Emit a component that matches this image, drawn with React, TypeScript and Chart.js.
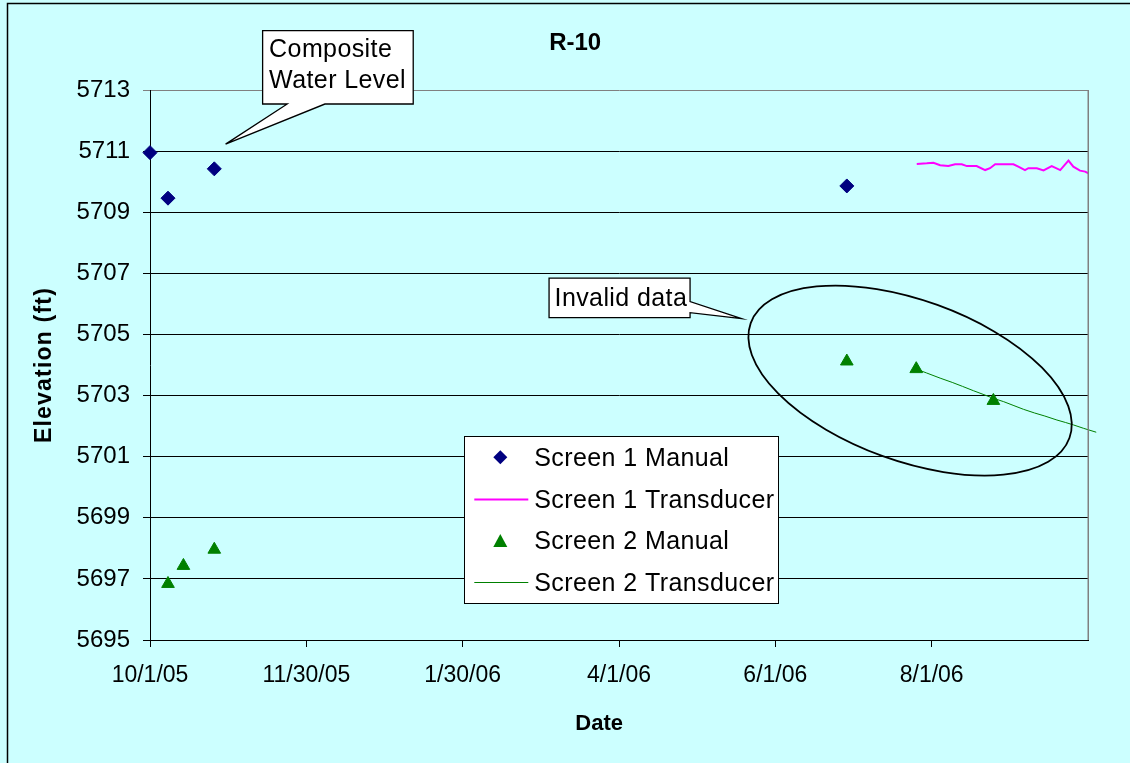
import React, { useEffect, useRef } from 'react';
import { Chart, registerables } from 'chart.js';

Chart.register(...registerables);

// All x values are days since 10/1/05 (start of the date axis)
const screen1ManualDays = [0, 7, 25, 271];
const screen1ManualElev = [5710.95, 5709.46, 5710.42, 5709.86];

const screen2ManualDays = [7, 13, 25, 271, 298, 328];
const screen2ManualElev = [5696.84, 5697.43, 5697.96, 5704.12, 5703.87, 5702.83];

const screen1TransDays = [298.2, 302.1, 304.7, 307.3, 310.5, 313.1, 315.7, 317.7, 321.5, 324.8, 326.7, 328.7, 335.8, 337.7, 340.3, 341.6, 344.9, 347.5, 350.7, 354.0, 357.2, 359.1, 361.7, 363.7, 365.0, 366.3, 368.0];
const screen1TransElev = [5710.58, 5710.60, 5710.62, 5710.54, 5710.51, 5710.57, 5710.57, 5710.51, 5710.51, 5710.38, 5710.44, 5710.57, 5710.57, 5710.49, 5710.38, 5710.44, 5710.44, 5710.37, 5710.51, 5710.38, 5710.69, 5710.49, 5710.36, 5710.33, 5710.27, 5710.33, 5710.27];

const screen2TransDays = [298.2, 302.0, 307.3, 312.0, 316.0, 320.2, 324.0, 328.0, 332.0, 336.0, 339.7, 344.0, 348.0, 352.7, 356.0, 359.1, 363.0, 368.0];
const screen2TransElev = [5703.86, 5703.74, 5703.57, 5703.43, 5703.30, 5703.16, 5703.04, 5702.91, 5702.80, 5702.67, 5702.55, 5702.43, 5702.33, 5702.20, 5702.12, 5702.04, 5701.93, 5701.80];

const xTickDays = [0, 60.8, 121.6, 182.4, 243.2, 304];
const xTickLabels = ['10/1/05', '11/30/05', '1/30/06', '4/1/06', '6/1/06', '8/1/06'];
const X_MIN = 0;
const X_MAX = 364.8;
const yTicks = [5695, 5697, 5699, 5701, 5703, 5705, 5707, 5709, 5711, 5713];

const seriesNames = ['Screen 1 Manual', 'Screen 1 Transducer', 'Screen 2 Manual', 'Screen 2 Transducer'];
const NAVY = '#000080';
const MAGENTA = '#FF00FF';
const GREEN = '#008000';
const BG = '#CCFFFF';
const FONT = '"Liberation Sans", Arial, sans-serif';

const toPoints = (xs: number[], ys: number[]) => xs.map((x, i) => ({ x, y: ys[i] }));

function setSpacing(ctx: any, px: number) {
  if ('letterSpacing' in ctx) ctx.letterSpacing = `${px}px`;
}

function drawDiamond(ctx: CanvasRenderingContext2D, x: number, y: number, r: number, color: string) {
  ctx.beginPath();
  ctx.moveTo(x - r, y);
  ctx.lineTo(x, y - r);
  ctx.lineTo(x + r, y);
  ctx.lineTo(x, y + r);
  ctx.closePath();
  ctx.fillStyle = color;
  ctx.fill();
}

function drawTriangle(ctx: CanvasRenderingContext2D, x: number, y: number, r: number, color: string) {
  ctx.beginPath();
  ctx.moveTo(x, y - r);
  ctx.lineTo(x + r, y + r * 0.85);
  ctx.lineTo(x - r, y + r * 0.85);
  ctx.closePath();
  ctx.fillStyle = color;
  ctx.fill();
}

const decorPlugin = {
  id: 'decor',
  beforeDraw(chart: any) {
    const ctx = chart.ctx as CanvasRenderingContext2D;
    ctx.save();
    ctx.fillStyle = BG;
    ctx.fillRect(0, 0, chart.width, chart.height);
    ctx.restore();
  },
  afterDraw(chart: any) {
    const ctx = chart.ctx as CanvasRenderingContext2D;
    const xs = chart.scales.x;
    const ys = chart.scales.y;
    const ca = chart.chartArea;
    ctx.save();

    // plot area right border (gray)
    ctx.strokeStyle = '#808080';
    ctx.lineWidth = 1.5;
    ctx.beginPath();
    ctx.moveTo(Math.round(ca.right) + 0.25, ca.top);
    ctx.lineTo(Math.round(ca.right) + 0.25, ca.bottom);
    ctx.stroke();

    // Ellipse around invalid data
    const ex = xs.getPixelForValue(295.6);
    const ey = ys.getPixelForValue(5703.49);
    ctx.strokeStyle = '#000';
    ctx.lineWidth = 1.8;
    ctx.beginPath();
    ctx.ellipse(ex, ey, 169.4, 80.4, 0.346, 0, Math.PI * 2);
    ctx.stroke();

    // Callout: Composite Water Level (pointer at bottom)
    {
      const bx = xs.getPixelForValue(43.8);
      const by = ys.getPixelForValue(5714.94);
      const w = 150.6, h = 73.3;
      const tx = xs.getPixelForValue(29.4);
      const ty = ys.getPixelForValue(5711.23);
      ctx.beginPath();
      ctx.moveTo(bx, by);
      ctx.lineTo(bx + w, by);
      ctx.lineTo(bx + w, by + h);
      ctx.lineTo(bx + 62.3, by + h);
      ctx.lineTo(tx, ty);
      ctx.lineTo(bx + 24.6, by + h);
      ctx.lineTo(bx, by + h);
      ctx.closePath();
      ctx.fillStyle = '#FFFFFF';
      ctx.fill();
      ctx.lineWidth = 1.3;
      ctx.strokeStyle = '#000';
      ctx.stroke();
      ctx.fillStyle = '#000';
      ctx.font = `25px ${FONT}`;
      setSpacing(ctx, 0.4);
      ctx.textAlign = 'left';
      ctx.textBaseline = 'alphabetic';
      ctx.fillText('Composite', bx + 6.5, by + 26.6);
      ctx.fillText('Water Level', bx + 6.5, by + 57.6);
      setSpacing(ctx, 0);
    }

    // Callout: Invalid data (pointer at right)
    {
      const bx = xs.getPixelForValue(155.2);
      const by = ys.getPixelForValue(5706.84);
      const w = 141, h = 39.4;
      const tx = xs.getPixelForValue(230.1);
      const ty = ys.getPixelForValue(5705.52);
      ctx.beginPath();
      ctx.moveTo(bx, by);
      ctx.lineTo(bx + w, by);
      ctx.lineTo(bx + w, by + 23.4);
      ctx.lineTo(tx, ty);
      ctx.lineTo(bx + w, by + 34.4);
      ctx.lineTo(bx + w, by + h);
      ctx.lineTo(bx, by + h);
      ctx.closePath();
      ctx.fillStyle = '#FFFFFF';
      ctx.fill();
      ctx.lineWidth = 1.3;
      ctx.strokeStyle = '#000';
      ctx.stroke();
      ctx.fillStyle = '#000';
      ctx.font = `25px ${FONT}`;
      setSpacing(ctx, 0.4);
      ctx.textAlign = 'left';
      ctx.textBaseline = 'alphabetic';
      ctx.fillText('Invalid data', bx + 5.5, by + 27.4);
      setSpacing(ctx, 0);
    }

    // Legend
    {
      const lx = ca.left + 314.3;
      const ly = ca.top + 346;
      const lw = 314, lh = 167;
      ctx.fillStyle = '#FFFFFF';
      ctx.fillRect(lx, ly, lw, lh);
      ctx.strokeStyle = '#000';
      ctx.lineWidth = 1;
      ctx.strokeRect(Math.round(lx) + 0.5, Math.round(ly) + 0.5, lw, lh);
      const rowsY = [21.3, 63, 104, 145.7];
      const symX = lx + 36;
      rowsY.forEach((ry, i) => {
        const cy = ly + ry;
        if (i === 0) drawDiamond(ctx, symX, cy, 7, NAVY);
        if (i === 2) drawTriangle(ctx, symX, cy + 1, 7, GREEN);
        if (i === 1 || i === 3) {
          ctx.strokeStyle = i === 1 ? MAGENTA : GREEN;
          ctx.lineWidth = i === 1 ? 2 : 1;
          ctx.beginPath();
          ctx.moveTo(lx + 10, Math.round(cy) + 0.5);
          ctx.lineTo(lx + 64, Math.round(cy) + 0.5);
          ctx.stroke();
        }
        ctx.fillStyle = '#000';
        ctx.font = `25px ${FONT}`;
        setSpacing(ctx, 0.4);
        ctx.textAlign = 'left';
        ctx.textBaseline = 'alphabetic';
        ctx.fillText(seriesNames[i], lx + 70, cy + 8.9);
        setSpacing(ctx, 0);
      });
    }

    // Title
    ctx.fillStyle = '#000';
    ctx.font = `bold 24px ${FONT}`;
    ctx.textAlign = 'center';
    ctx.textBaseline = 'alphabetic';
    ctx.fillText('R-10', ca.left + 425.2, ca.top - 40.2);

    // X axis title
    ctx.font = `bold 22px ${FONT}`;
    ctx.fillText('Date', ca.left + 449.2, ca.bottom + 89.9);

    // Y axis title
    ctx.save();
    ctx.translate(ca.left - 99.5, (ca.top + ca.bottom) / 2);
    ctx.rotate(-Math.PI / 2);
    ctx.font = `bold 23px ${FONT}`;
    setSpacing(ctx, 1.2);
    ctx.textAlign = 'center';
    ctx.fillText('Elevation (ft)', 0, 0);
    setSpacing(ctx, 0);
    ctx.restore();

    // outer chart border
    ctx.strokeStyle = '#000';
    ctx.lineWidth = 1.5;
    ctx.beginPath();
    ctx.moveTo(7.5, chart.height + 10);
    ctx.lineTo(7.5, 3.5);
    ctx.lineTo(chart.width + 10, 3.5);
    ctx.stroke();

    ctx.restore();
  },
};

export default function App() {
  const canvasRef = useRef<HTMLCanvasElement | null>(null);

  useEffect(() => {
    const canvas = canvasRef.current;
    if (!canvas) return;
    const chart = new Chart(canvas, {
      type: 'scatter',
      data: {
        datasets: [
          {
            label: seriesNames[0],
            data: toPoints(screen1ManualDays, screen1ManualElev),
            pointStyle: 'rectRot',
            pointRadius: 7,
            borderWidth: 1,
            backgroundColor: NAVY,
            borderColor: NAVY,
            showLine: false,
            clip: false,
          },
          {
            label: seriesNames[1],
            data: toPoints(screen1TransDays, screen1TransElev),
            showLine: true,
            pointRadius: 0,
            borderColor: MAGENTA,
            backgroundColor: MAGENTA,
            borderWidth: 2,
            tension: 0,
            clip: false,
          },
          {
            label: seriesNames[2],
            data: toPoints(screen2ManualDays, screen2ManualElev),
            pointStyle: 'triangle',
            pointRadius: 7.3,
            borderWidth: 1,
            backgroundColor: GREEN,
            borderColor: GREEN,
            showLine: false,
            clip: false,
          },
          {
            label: seriesNames[3],
            data: toPoints(screen2TransDays, screen2TransElev),
            showLine: true,
            pointRadius: 0,
            borderColor: GREEN,
            backgroundColor: GREEN,
            borderWidth: 1,
            tension: 0,
            clip: false,
          },
        ],
      },
      options: {
        responsive: false,
        animation: false,
        devicePixelRatio: 1,
        layout: { padding: { left: 0, right: 42, top: 90, bottom: 0 } },
        plugins: {
          legend: { display: false },
          title: { display: false },
          tooltip: { enabled: false },
        },
        scales: {
          x: {
            type: 'linear',
            min: X_MIN,
            max: X_MAX,
            afterFit: (s: any) => {
              s.height = 123;
            },
            afterBuildTicks: (s: any) => {
              s.ticks = xTickDays.map((v) => ({ value: v }));
            },
            ticks: {
              autoSkip: false,
              maxRotation: 0,
              padding: 15,
              color: '#000',
              font: { family: FONT, size: 23 },
              callback: (_v: any, i: number) => xTickLabels[i],
            },
            grid: {
              drawOnChartArea: false,
              drawTicks: true,
              tickLength: 7,
              tickColor: '#000',
              tickWidth: 1,
            },
            border: { display: true, color: '#000', width: 1 },
          },
          y: {
            type: 'linear',
            min: 5695,
            max: 5713,
            afterFit: (s: any) => {
              s.width = 150;
            },
            afterBuildTicks: (s: any) => {
              s.ticks = yTicks.map((v) => ({ value: v }));
            },
            ticks: {
              padding: 13,
              color: '#000',
              font: { family: FONT, size: 24 },
              callback: (v: any) => String(v),
            },
            grid: {
              color: (c: any) => (c.tick && c.tick.value === 5713 ? '#808080' : '#000'),
              lineWidth: 1,
              drawTicks: true,
              tickLength: 7,
              tickColor: (c: any) => (c.tick && c.tick.value === 5713 ? '#808080' : '#000'),
            },
            border: { display: true, color: '#000', width: 1 },
          },
        },
      },
      plugins: [decorPlugin],
    } as any);
    return () => chart.destroy();
  }, []);

  return (
    <div style={{ position: 'fixed', left: 0, top: 0, width: 1130, height: 763, background: BG }}>
      <canvas ref={canvasRef} width={1130} height={763} style={{ display: 'block', width: 1130, height: 763 }} />
    </div>
  );
}
